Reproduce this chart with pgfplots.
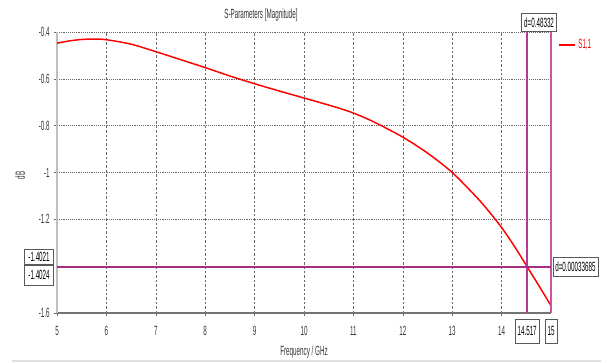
\documentclass[border=0pt]{standalone}
\usepackage{fontspec}
\setmainfont[FakeStretch=0.47]{Liberation Sans}
\usepackage{pgfplots}
\pgfplotsset{compat=1.18}
\definecolor{mk}{RGB}{165,45,130}
\definecolor{mka}{RGB}{178,58,148}
\definecolor{mkb}{RGB}{200,85,170}
\definecolor{gridc}{RGB}{105,105,105}
\begin{document}
\begin{tikzpicture}[font=\fontsize{10}{12}\selectfont,
  box/.style={draw=black!65, fill=white, inner sep=1.8pt, line width=0.5pt}]
\path[use as bounding box] (-42.75pt,-37.5pt) rectangle (414pt,234.75pt);
\draw[black!12, line width=0.8pt] (-33.75pt,-36pt) -- (408pt,-36pt);
\begin{axis}[
  at={(0,0)}, anchor=south west,
  scale only axis, width=370.5pt, height=210.75pt,
  xmin=5, xmax=15, ymin=-1.6, ymax=-0.4,
  axis lines=left, axis line style={-},
  x axis line style={draw=black!55, line width=1.1pt},
  y axis line style={draw=black!25, line width=1.1pt},
  xtick={5,6,7,8,9,10,11,12,13,14},
  xticklabels={5,6,7,8,9,10,11,12,13,14},
  ytick={-1.6,-1.2,-1,-0.8,-0.6,-0.4},
  yticklabels={-1.6,-1.2,-1,-0.8,-0.6,-0.4},
  tick align=outside, major tick length=2.5pt,
  tick style={gridc, line width=0.4pt},
  grid=major,
  x grid style={gridc, line width=0.4pt, dash pattern=on 1.8pt off 1.5pt},
  y grid style={gridc, line width=0.4pt, dash pattern=on 0.7pt off 0.7pt},
  tick label style={font=\fontsize{10}{12}\selectfont, text=black!80},
  xticklabel style={yshift=-4pt},
  yticklabel style={xshift=0.5pt},
  xlabel={Frequency / GHz},
  xlabel style={at={(axis description cs:0.5,0)}, anchor=center, yshift=-29.25pt, text=black!80},
  clip=false,
  legend style={at={(rel axis cs:1.014,0.954)}, anchor=west, draw=none, fill=none,
    font=\fontsize{10}{12}\selectfont, text=red, inner sep=0pt},
  legend image code/.code={\draw[red, line width=1.1pt] (0pt,0pt) -- (12pt,0pt);},
]
\addplot[red, line width=1.1pt, smooth] coordinates {
(5.0,-0.448) (5.25,-0.438) (5.5,-0.432) (5.75,-0.430) (6.0,-0.433)
(6.5,-0.452) (7.0,-0.484) (7.5,-0.518) (8.0,-0.552) (8.5,-0.588)
(9.0,-0.621) (9.5,-0.652) (10.0,-0.682) (10.5,-0.712) (10.75,-0.728) (11.0,-0.746)
(11.25,-0.768) (11.5,-0.793) (12.0,-0.849) (12.5,-0.917) (13.0,-1.000) (13.5,-1.107)
(13.75,-1.168) (14.0,-1.235) (14.25,-1.312) (14.517,-1.4024) (14.75,-1.482) (15.0,-1.569)
};
\addlegendentry{S1,1}
\addplot[draw=mka, line width=1pt, forget plot] coordinates {(14.517,-1.6) (14.517,-0.4)};
\addplot[draw=mkb, line width=1pt, forget plot] coordinates {(15,-1.6) (15,-0.4)};
\addplot[draw=mk, line width=1.6pt, forget plot] coordinates {(5,-1.40225) (15,-1.40225)};
\node[box, anchor=south, minimum height=13.5pt] at (axis cs:14.7585,-0.4) {d=0.48332};
\node[box, anchor=west, minimum height=14pt, xshift=1.2pt] at (axis cs:15,-1.40225) {d=0.00033685};
\node[box, anchor=south east, minimum height=11.5pt, minimum width=22pt, xshift=-2.2pt, yshift=1.5pt] at (axis cs:5,-1.40225) {-1.4021};
\node[box, anchor=north east, minimum height=15pt, minimum width=22pt, xshift=-2.2pt, yshift=1.5pt] at (axis cs:5,-1.40225) {-1.4024};
\node[box, anchor=north, minimum height=18pt, yshift=-4.5pt] at (axis cs:14.517,-1.6) {14.517};
\node[box, anchor=north, minimum height=18pt, yshift=-4.5pt] at (axis cs:15,-1.6) {15};
\node[anchor=center, yshift=12.75pt, text=black!80] at (rel axis cs:0.413,1) {S-Parameters [Magnitude]};
\end{axis}
\node[rotate=90, text=black!80] at (-27.75pt,103.3pt) {dB};
\end{tikzpicture}
\end{document}
